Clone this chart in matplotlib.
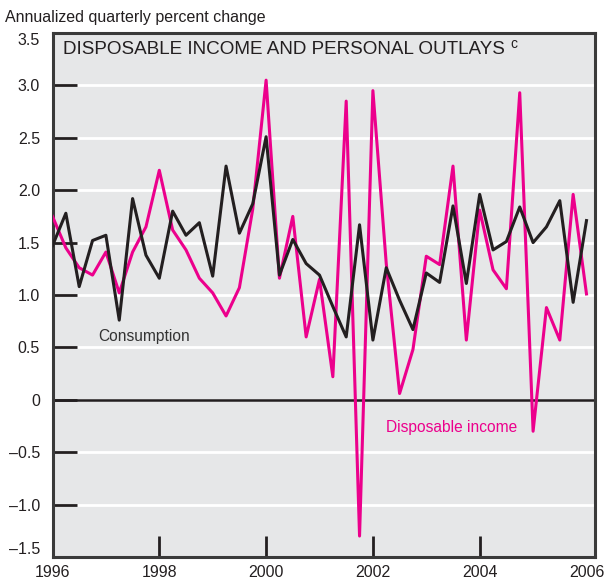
import numpy as np
import matplotlib
matplotlib.use("Agg")
import matplotlib.pyplot as plt

# quarterly, 1996Q1 .. 2006Q1
quarters = 1996 + np.arange(41) / 4.0
consumption = [1.47, 1.78, 1.08, 1.52, 1.57, 0.76, 1.92, 1.38, 1.16, 1.80,
               1.57, 1.69, 1.18, 2.23, 1.59, 1.87, 2.51, 1.19, 1.53, 1.30,
               1.19, 0.89, 0.60, 1.67, 0.57, 1.26, 0.95, 0.67, 1.21, 1.12,
               1.85, 1.11, 1.96, 1.43, 1.51, 1.84, 1.50, 1.65, 1.90, 0.93,
               1.71]
income = [1.75, 1.45, 1.26, 1.19, 1.41, 1.02, 1.41, 1.65, 2.19, 1.62,
          1.43, 1.16, 1.02, 0.80, 1.07, 1.82, 3.05, 1.16, 1.75, 0.60,
          1.15, 0.22, 2.85, -1.30, 2.95, 1.30, 0.06, 0.48, 1.37, 1.29,
          2.23, 0.57, 1.81, 1.24, 1.06, 2.93, -0.30, 0.88, 0.57, 1.96,
          1.01]
yticks = [-1.5, -1.0, -0.5, 0, 0.5, 1.0, 1.5, 2.0, 2.5, 3.0, 3.5]
ytick_labels = ["\u20131.5", "\u20131.0", "\u20130.5", "0", "0.5", "1.0",
                "1.5", "2.0", "2.5", "3.0", "3.5"]
xticks = [1996, 1998, 2000, 2002, 2004, 2006]

plt.rcParams["font.family"] = ["Liberation Sans", "DejaVu Sans"]

pink = "#ec008c"
dark = "#231f20"
bg = "#e6e7e8"

fig = plt.figure(figsize=(6.07, 5.86), dpi=100)
ax = fig.add_axes([52.5 / 607, 1 - 557 / 586, 542 / 607, 524 / 586])
ax.set_facecolor(bg)
ax.set_xlim(1996, 2006.15)
ax.set_ylim(-1.5, 3.5)

for y in yticks[1:-1]:
    if y == 0:
        ax.axhline(y, color=dark, lw=1.8, zorder=1)
    else:
        ax.axhline(y, color="white", lw=2.0, zorder=1)

ax.plot(quarters, income, color=pink, lw=2.2, zorder=3)
ax.plot(quarters, consumption, color=dark, lw=2.2, zorder=4)

for s in ax.spines.values():
    s.set_color("#3a3a3a")
    s.set_linewidth(2.2)

ax.set_yticks(yticks)
ax.set_yticklabels(ytick_labels, fontsize=11.5, color=dark)
ax.set_xticks(xticks)
ax.set_xticklabels([str(x) for x in xticks], fontsize=11.5, color=dark)
ax.tick_params(axis="y", direction="in", length=17, width=2, color=dark, pad=9)
ax.tick_params(axis="x", direction="in", length=15, width=2, color=dark, pad=6)
ax.xaxis.get_major_ticks()[-1].tick1line.set_visible(False)
labs = ax.get_yticklabels()
labs[-1].set_va("top")
labs[0].set_va("bottom")

ax.text(0.019, 0.96, "DISPOSABLE INCOME AND PERSONAL OUTLAYS", transform=ax.transAxes,
        fontsize=13.6, color=dark, va="baseline", ha="left")
ax.text(0.845, 0.972, "c", transform=ax.transAxes, fontsize=10, color=dark,
        va="baseline", ha="left")
ax.text(1996.85, 0.6, "Consumption", fontsize=11.2, color="#333333",
        va="center", ha="left")
ax.text(2002.25, -0.26, "Disposable income", fontsize=11.2, color=pink,
        va="center", ha="left")

fig.text(5 / 607, 1 - 22 / 586, "Annualized quarterly percent change",
         fontsize=11.5, color=dark, va="baseline", ha="left")

fig.savefig("out.png", dpi=100)
